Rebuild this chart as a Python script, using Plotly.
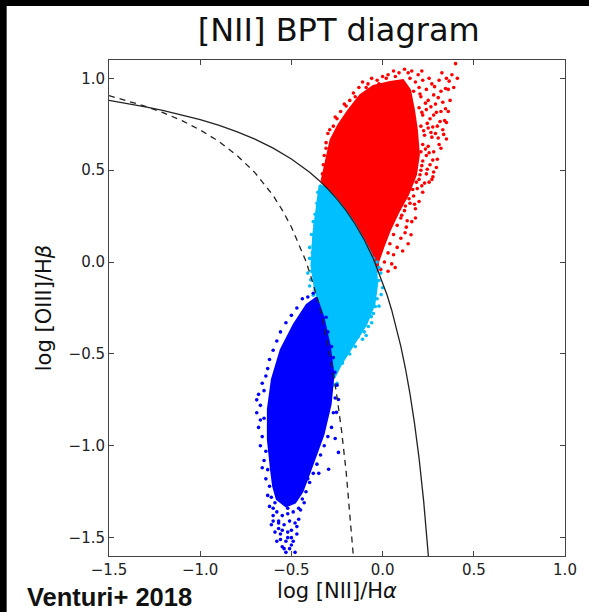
import plotly.graph_objects as go

# ---------------- data ----------------
# Kewley+01 maximum starburst line (solid), sampled values
kew_x = [-1.5, -1.4, -1.3, -1.2, -1.1, -1.0, -0.9, -0.8, -0.7, -0.6, -0.5, -0.45, -0.4, -0.35, -0.3,
         -0.25, -0.2, -0.15, -0.1, -0.05, 0.0, 0.025, 0.05, 0.075, 0.1, 0.125, 0.15, 0.175, 0.2,
         0.225, 0.24, 0.25, 0.255]
kew_y = [0.880, 0.864, 0.845, 0.825, 0.801, 0.775, 0.745, 0.710, 0.669, 0.620, 0.561, 0.527, 0.489,
         0.446, 0.398, 0.343, 0.280, 0.206, 0.120, 0.017, -0.108, -0.181, -0.262, -0.354, -0.459,
         -0.578, -0.716, -0.878, -1.069, -1.300, -1.462, -1.583, -1.647]

# Kauffmann+03 line (dashed), sampled values
kau_x = [-1.5, -1.4, -1.3, -1.2, -1.1, -1.0, -0.9, -0.8, -0.7, -0.6, -0.55, -0.5, -0.45, -0.425,
         -0.4, -0.375, -0.35, -0.325, -0.3, -0.275, -0.25, -0.225, -0.2, -0.18, -0.16, -0.155]
kau_y = [0.906, 0.879, 0.848, 0.812, 0.770, 0.719, 0.658, 0.582, 0.487, 0.362, 0.283, 0.191, 0.080,
         0.016, -0.056, -0.135, -0.225, -0.327, -0.443, -0.577, -0.733, -0.918, -1.140, -1.352,
         -1.605, -1.676]

# outlines of the dense (solid-looking) part of each population
red_core = [(-0.335, 0.44), (-0.307, 0.557), (-0.285, 0.665), (-0.242, 0.747), (-0.187, 0.828),
            (-0.122, 0.910), (-0.051, 0.959), (0.041, 0.980), (0.112, 0.991), (0.150, 0.937),
            (0.172, 0.828), (0.188, 0.720), (0.199, 0.584), (0.183, 0.475), (0.139, 0.366),
            (0.085, 0.268), (0.041, 0.176), (0.003, 0.078), (-0.024, 0.002), (-0.028, -0.055),
            (-0.05, 0.017), (-0.10, 0.12), (-0.15, 0.206), (-0.20, 0.28), (-0.25, 0.343),
            (-0.30, 0.398)]
lb_core = [(-0.345, 0.42), (-0.30, 0.395), (-0.25, 0.34), (-0.20, 0.278), (-0.15, 0.204),
           (-0.10, 0.118), (-0.06, 0.04), (-0.035, -0.04), (-0.03, -0.12), (-0.045, -0.23),
           (-0.09, -0.34), (-0.16, -0.45), (-0.23, -0.56), (-0.265, -0.63), (-0.29, -0.55),
           (-0.315, -0.40), (-0.34, -0.25), (-0.37, -0.15), (-0.39, -0.02), (-0.38, 0.15),
           (-0.36, 0.32)]
blue_core = [(-0.362, -0.193), (-0.324, -0.302), (-0.291, -0.449), (-0.269, -0.612),
             (-0.285, -0.775), (-0.324, -0.938), (-0.394, -1.128), (-0.44, -1.25),
             (-0.48, -1.31), (-0.53, -1.33), (-0.58, -1.29), (-0.60, -1.22),
             (-0.612, -1.128), (-0.629, -0.965), (-0.629, -0.802), (-0.607, -0.639),
             (-0.558, -0.476), (-0.487, -0.340), (-0.416, -0.232)]

# individual spaxels around the dense cores
red_pts = [(-0.32, 0.58), (-0.31, 0.65), (-0.30, 0.70), (-0.27, 0.74), (-0.26, 0.79), (-0.23, 0.82),
           (-0.21, 0.86), (-0.18, 0.88), (-0.16, 0.92), (-0.13, 0.95), (-0.11, 0.98), (-0.08, 0.97),
           (-0.06, 1.00), (-0.03, 0.99), (0.00, 1.01), (0.03, 1.02), (0.06, 1.04), (0.09, 1.03),
           (0.12, 1.05), (0.15, 1.00), (0.16, 1.04), (0.18, 0.98), (0.17, 0.93),
           (0.20, 0.95), (0.22, 0.99), (0.21, 0.90), (0.20, 0.84), (0.22, 0.80), (0.21, 0.74),
           (0.23, 0.69), (0.22, 0.64), (0.21, 0.60), (0.22, 0.55), (0.21, 0.50), (0.20, 0.45),
           (0.19, 0.40), (0.17, 0.36), (0.15, 0.32), (0.12, 0.28), (0.10, 0.24), (0.08, 0.20),
           (0.06, 0.15), (0.04, 0.10), (0.03, 0.05), (0.01, 0.00), (-0.01, -0.04),
           (0.24, 0.94), (0.25, 0.88), (0.24, 0.83), (0.26, 0.78), (0.25, 0.73), (0.27, 0.68),
           (0.25, 0.63), (0.24, 0.58), (0.26, 0.53), (0.24, 0.48), (0.23, 0.43), (0.22, 0.38),
           (0.20, 0.33), (0.18, 0.29),
           (0.27, 0.97), (0.28, 0.91), (0.29, 0.86), (0.28, 0.80), (0.30, 0.74), (0.29, 0.70),
           (0.31, 0.64), (0.28, 0.60), (0.30, 0.56), (0.28, 0.49), (0.27, 0.45),
           (0.31, 0.99), (0.32, 0.93), (0.33, 0.87), (0.32, 0.82), (0.34, 0.77), (0.33, 0.72),
           (0.35, 0.67), (0.32, 0.62), (0.35, 1.00), (0.36, 0.94), (0.37, 0.88), (0.36, 0.82),
           (0.35, 0.76), (0.38, 1.02), (0.40, 1.08), (0.41, 1.00), (0.39, 0.95),
           (0.123, 0.160), (0.156, 0.149), (0.069, -0.03), (0.276, 0.464), (0.13, 0.19),
           (0.10, 0.13), (0.08, 0.08), (0.06, 0.04), (0.05, -0.01), (0.03, -0.05), (0.16, 0.22),
           (0.18, 0.24), (0.11, 0.06), (0.14, 0.10),
           (0.205, 0.915), (0.235, 0.865), (0.215, 0.815), (0.245, 0.755), (0.225, 0.715),
           (0.265, 0.705), (0.235, 0.615), (0.255, 0.595), (0.215, 0.525), (0.245, 0.505),
           (0.205, 0.475), (0.185, 0.435), (0.215, 0.415), (0.165, 0.395), (0.145, 0.345),
           (0.175, 0.315), (0.125, 0.305), (0.105, 0.255), (0.135, 0.225), (0.285, 0.955),
           (0.305, 0.895), (0.265, 0.845), (0.295, 0.815), (0.315, 0.765), (0.275, 0.735),
           (0.305, 0.675), (0.335, 0.695), (0.275, 0.555), (0.295, 0.515), (0.255, 0.435),
           (0.345, 0.835), (0.365, 0.985), (0.345, 0.945), (0.325, 1.03), (0.255, 1.00),
           (0.195, 1.02), (0.215, 1.04), (0.14, 1.03), (0.07, 1.01), (0.02, 1.00), (-0.02, 0.97),
           (-0.09, 0.95), (-0.15, 0.90), (-0.20, 0.85), (-0.25, 0.78), (-0.29, 0.72),
           (-0.31, 0.62), (-0.325, 0.53), (-0.33, 0.48)]
lb_pts = [(-0.351, 0.268), (-0.367, 0.105), (-0.378, -0.025), (-0.394, -0.096), (-0.37, 0.20),
          (-0.385, 0.05), (-0.39, -0.05), (-0.40, -0.13), (-0.38, -0.18), (-0.36, 0.32),
          (-0.355, 0.38), (-0.37, 0.26), (-0.39, 0.15), (-0.40, 0.02), (-0.36, -0.20),
          (-0.37, -0.15), (-0.34, 0.40), (-0.33, 0.35), (-0.38, 0.09), (-0.008, -0.177),
          (-0.04, -0.242), (-0.062, -0.297), (-0.078, -0.351), (-0.133, -0.405), (-0.204, -0.476),
          (-0.242, -0.547), (-0.258, -0.601), (-0.02, -0.10), (-0.03, -0.20), (-0.05, -0.28),
          (-0.10, -0.38), (-0.15, -0.46), (-0.18, -0.50), (-0.22, -0.55), (-0.25, -0.66),
          (-0.27, -0.67), (-0.01, -0.06), (0.00, -0.14), (-0.02, -0.03), (-0.06, -0.33),
          (-0.11, -0.42), (-0.28, -0.64), (-0.03, 0.00), (-0.05, 0.02), (-0.12, -0.36),
          (-0.17, -0.43), (-0.21, -0.51), (-0.26, -0.57), (-0.08, -0.30), (-0.04, -0.16),
          (-0.41, -0.06), (-0.40, 0.08), (-0.38, 0.22), (-0.02, -0.24), (-0.09, -0.40)]
blue_pts = [(-0.64, -0.62), (-0.66, -0.66), (-0.68, -0.72), (-0.65, -0.70), (-0.67, -0.78),
            (-0.69, -0.82), (-0.65, -0.85), (-0.68, -0.90), (-0.66, -0.95), (-0.67, -1.00),
            (-0.64, -1.03), (-0.65, -1.08), (-0.63, -1.13), (-0.64, -1.18), (-0.62, -1.22),
            (-0.61, -1.28), (-0.62, -1.33), (-0.60, -1.38), (-0.61, -1.43), (-0.59, -1.47),
            (-0.56, -1.48), (-0.58, -1.52), (-0.55, -1.55), (-0.52, -1.50), (-0.50, -1.46),
            (-0.51, -1.56), (-0.49, -1.52), (-0.47, -1.44), (-0.46, -1.40), (-0.45, -1.35),
            (-0.43, -1.31), (-0.42, -1.25), (-0.40, -1.20), (-0.38, -1.15), (-0.36, -1.10),
            (-0.34, -1.05), (-0.32, -1.00), (-0.30, -0.95), (-0.28, -0.90), (-0.27, -0.82),
            (-0.26, -0.74), (-0.25, -0.67), (-0.262, -0.60), (-0.27, -0.52), (-0.28, -0.46),
            (-0.30, -0.38), (-0.31, -0.30),
            (-0.44, -0.20), (-0.47, -0.25), (-0.50, -0.29), (-0.53, -0.33), (-0.56, -0.38),
            (-0.58, -0.43), (-0.60, -0.48), (-0.62, -0.53), (-0.63, -0.58), (-0.41, -0.19),
            (-0.38, -0.17), (-0.69, -0.75), (-0.67, -0.86), (-0.66, -1.12), (-0.63, -1.27),
            (-0.242, -1.036), (-0.296, -1.128), (-0.253, -0.818), (-0.242, -0.748),
            (-0.26, -0.96), (-0.53, -1.58), (-0.57, -1.42), (-0.48, -1.58), (-0.35, -1.15),
            (-0.60, -1.34),
            (-0.58, -1.36), (-0.55, -1.38), (-0.52, -1.37), (-0.49, -1.36), (-0.46, -1.34),
            (-0.57, -1.41), (-0.54, -1.43), (-0.51, -1.41), (-0.48, -1.42), (-0.55, -1.46),
            (-0.52, -1.47), (-0.50, -1.50), (-0.53, -1.52), (-0.56, -1.51), (-0.54, -1.56),
            (-0.50, -1.54), (-0.57, -1.45), (-0.47, -1.48), (-0.60, -1.41), (-0.44, -1.29),
            (-0.41, -1.18), (-0.59, -1.31), (-0.52, -1.34)]

x_ticks = [-1.5, -1.0, -0.5, 0.0, 0.5, 1.0]
y_ticks = [-1.5, -1.0, -0.5, 0.0, 0.5, 1.0]

RED, LBLUE, BLUE = "#ff0000", "#00bfff", "#0000ff"

# ---------------- figure ----------------
fig = go.Figure()


def add_core(pts, color):
    xs, ys = zip(*pts)
    fig.add_trace(go.Scatter(x=list(xs) + [xs[0]], y=list(ys) + [ys[0]], mode="lines",
                             fill="toself", fillcolor=color, line=dict(color=color, width=2),
                             hoverinfo="skip", showlegend=False))


def add_pts(pts, color):
    xs, ys = zip(*pts)
    fig.add_trace(go.Scatter(x=list(xs), y=list(ys), mode="markers",
                             marker=dict(color=color, size=3.6, line=dict(width=0)),
                             showlegend=False))


add_core(red_core, RED)
add_pts(red_pts, RED)
add_core(lb_core, LBLUE)
add_pts(lb_pts, LBLUE)
add_core(blue_core, BLUE)
add_pts(blue_pts, BLUE)

fig.add_trace(go.Scatter(x=kew_x, y=kew_y, mode="lines",
                         line=dict(color="#222222", width=1.3), showlegend=False))
fig.add_trace(go.Scatter(x=kau_x, y=kau_y, mode="lines",
                         line=dict(color="#222222", width=1.3, dash="6px,5px"), showlegend=False))

axis_common = dict(showgrid=False, zeroline=False, showline=True, linecolor="#444444", linewidth=1,
                   mirror="ticks", ticks="inside", ticklen=5, tickcolor="#444444", tickwidth=1,
                   tickformat=".1f", tickfont=dict(family="DejaVu Sans", size=15, color="#222222"))

fig.update_layout(
    width=589, height=612,
    margin=dict(l=109, r=21, t=60, b=56),
    paper_bgcolor="white", plot_bgcolor="white",
    title=dict(text="[NII] BPT diagram", x=0.575, xanchor="center", y=0.951, yanchor="middle",
               font=dict(family="DejaVu Sans", size=32, color="#111111")),
    xaxis=dict(range=[-1.5, 1.0], tickvals=x_ticks,
               title=dict(text="log [NII]/H<i>α</i>", standoff=3,
                          font=dict(family="DejaVu Sans", size=21, color="#111111")),
               **axis_common),
    yaxis=dict(range=[-1.6, 1.1], tickvals=y_ticks,
               title=dict(text="log [OIII]/H<i>β</i>", standoff=11,
                          font=dict(family="DejaVu Sans", size=21, color="#111111")),
               **axis_common),
    annotations=[dict(text="<b>Venturi+ 2018</b>", xref="paper", yref="paper",
                      x=-0.185, y=-0.083, xanchor="left", yanchor="middle", showarrow=False,
                      font=dict(family="Liberation Sans", size=25.5, color="#111111"))],
    shapes=[
        dict(type="rect", xref="paper", yref="paper", x0=-0.3, x1=1.2, y0=1.109, y1=1.3,
             fillcolor="black", line=dict(width=0), layer="above"),
        dict(type="rect", xref="paper", yref="paper", x0=-0.3, x1=-0.2244, y0=-0.3, y1=1.3,
             fillcolor="black", line=dict(width=0), layer="above"),
    ],
)

fig.write_html("out.html")
